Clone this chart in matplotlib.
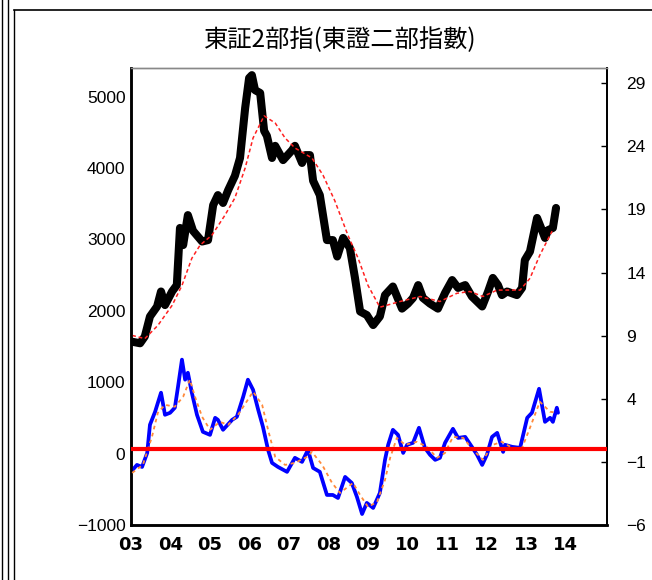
import matplotlib
matplotlib.use("Agg")
import matplotlib.pyplot as plt
from matplotlib.lines import Line2D

plt.rcParams['font.family'] = ['Liberation Sans', 'Noto Sans CJK JP', 'DejaVu Sans']

# --- data ---
TITLE = "東証2部指(東證二部指數)"

# index level (left axis)
index_years = [2003.00, 2003.23, 2003.35, 2003.48, 2003.66, 2003.76, 2003.86, 2004.04, 2004.16, 2004.24,
               2004.32, 2004.44, 2004.57, 2004.80, 2004.95, 2005.08, 2005.20, 2005.33, 2005.46, 2005.63,
               2005.76, 2005.89, 2005.99, 2006.06, 2006.14, 2006.27, 2006.37, 2006.44, 2006.57, 2006.65,
               2006.85, 2007.08, 2007.15, 2007.33, 2007.41, 2007.53, 2007.61, 2007.78, 2007.96, 2008.11,
               2008.22, 2008.37, 2008.54, 2008.67, 2008.80, 2008.97, 2009.13, 2009.30, 2009.43, 2009.63,
               2009.86, 2010.01, 2010.14, 2010.27, 2010.39, 2010.57, 2010.77, 2010.95, 2011.13, 2011.28,
               2011.46, 2011.63, 2011.89, 2012.04, 2012.16, 2012.29, 2012.39, 2012.52, 2012.77, 2012.90,
               2012.97, 2013.10, 2013.28, 2013.41, 2013.48, 2013.56, 2013.68, 2013.76]
index_values = [1570, 1545, 1640, 1920, 2060, 2270, 2080, 2270, 2360, 3160,
                2920, 3340, 3120, 2970, 2990, 3480, 3620, 3510, 3690, 3890,
                4140, 4840, 5260, 5300, 5090, 5050, 4520, 4450, 4140, 4310,
                4110, 4250, 4310, 4070, 4180, 4180, 3820, 3620, 2990, 2990,
                2760, 3020, 2880, 2460, 1990, 1940, 1800, 1920, 2220, 2340,
                2030, 2100, 2180, 2360, 2180, 2100, 2030, 2250, 2430, 2320,
                2360, 2200, 2060, 2270, 2460, 2360, 2220, 2270, 2220, 2320,
                2710, 2830, 3300, 3120, 3020, 3130, 3160, 3440]

# moving average of the index
ma_years = [2003.03, 2003.35, 2003.68, 2004.04, 2004.29, 2004.54, 2004.75, 2005.05, 2005.38, 2005.63,
            2005.89, 2006.09, 2006.37, 2006.65, 2006.90, 2007.15, 2007.58, 2007.86, 2008.16, 2008.49,
            2008.75, 2009.00, 2009.30, 2009.81, 2010.32, 2010.82, 2011.25, 2011.58, 2011.91, 2012.27,
            2012.85, 2013.10, 2013.35, 2013.66]
ma_values = [1655, 1610, 1795, 2075, 2355, 2735, 2920, 3060, 3340, 3580,
             4000, 4420, 4730, 4630, 4420, 4280, 4140, 3900, 3540, 3060,
             2735, 2355, 2050, 2130, 2200, 2130, 2245, 2270, 2200, 2290,
             2290, 2455, 2780, 3115]

# oscillator (right axis)
osc_years = [2003.00, 2003.15, 2003.28, 2003.41, 2003.48, 2003.61, 2003.68, 2003.76, 2003.86, 2003.99,
             2004.11, 2004.19, 2004.29, 2004.37, 2004.44, 2004.54, 2004.67, 2004.82, 2005.00, 2005.13,
             2005.20, 2005.33, 2005.56, 2005.68, 2005.84, 2005.96, 2006.09, 2006.22, 2006.34, 2006.47,
             2006.57, 2006.72, 2006.95, 2007.15, 2007.33, 2007.48, 2007.61, 2007.78, 2007.96, 2008.11,
             2008.24, 2008.42, 2008.59, 2008.72, 2008.85, 2008.97, 2009.13, 2009.30, 2009.43, 2009.51,
             2009.63, 2009.76, 2009.89, 2009.99, 2010.14, 2010.29, 2010.44, 2010.57, 2010.70, 2010.82,
             2010.95, 2011.15, 2011.28, 2011.46, 2011.63, 2011.76, 2011.89, 2012.01, 2012.14, 2012.27,
             2012.34, 2012.42, 2012.47, 2012.65, 2012.85, 2013.03, 2013.15, 2013.33, 2013.48, 2013.61,
             2013.68, 2013.78, 2013.81]
osc_values = [-1.79, -1.24, -1.40, -0.29, 1.94, 2.97, 3.68, 4.48, 2.73, 2.89,
              3.29, 4.95, 7.10, 5.51, 6.06, 4.48, 2.73, 1.38, 1.14, 2.49,
              2.33, 1.54, 2.33, 2.57, 4.16, 5.51, 4.71, 3.13, 1.78, -0.05,
              -1.08, -1.40, -1.79, -0.68, -1.00, -0.05, -1.48, -1.79, -3.62, -3.62,
              -3.86, -2.19, -2.67, -3.78, -5.13, -4.25, -4.65, -3.46, -0.84, 0.35,
              1.54, 1.14, -0.29, 0.35, 0.51, 1.70, 0.11, -0.44, -0.84, -0.68,
              0.51, 1.62, 0.90, 0.98, 0.19, -0.44, -1.24, -0.44, 0.98, 1.30,
              0.59, -0.21, 0.35, 0.19, 0.11, 2.49, 2.89, 4.79, 2.17, 2.49,
              2.17, 3.29, 2.89]

# moving average of the oscillator
osc_ma_years = [2003.03, 2003.30, 2003.53, 2003.68, 2003.86, 2004.11, 2004.32, 2004.49, 2004.62, 2004.80,
                2005.00, 2005.25, 2005.46, 2005.71, 2006.09, 2006.32, 2006.47, 2006.65, 2006.90, 2007.15,
                2007.46, 2007.58, 2007.84, 2008.09, 2008.29, 2008.62, 2008.80, 2009.00, 2009.23, 2009.43,
                2009.56, 2009.73, 2009.94, 2010.24, 2010.49, 2010.75, 2010.95, 2011.15, 2011.41, 2011.66,
                2011.91, 2012.16, 2012.39, 2012.65, 2012.90, 2013.10, 2013.35, 2013.61, 2013.78]
osc_ma_values = [-1.87, -1.24, 0.98, 2.89, 3.52, 3.37, 4.16, 5.51, 4.16, 2.57,
                 1.54, 2.17, 1.94, 2.73, 4.56, 3.52, 1.54, -0.60, -1.24, -1.08,
                 -0.60, -0.21, -1.24, -2.67, -3.46, -2.67, -3.62, -4.57, -4.17, -2.43,
                 -0.68, 0.90, 0.35, 0.59, 0.19, -0.68, -0.29, 0.98, 0.90, -0.05,
                 -0.84, 0.35, 0.59, 0.11, 0.11, 1.70, 3.76, 2.97, 2.89]

year_ticks = list(range(2003, 2015))
year_labels = ["03", "04", "05", "06", "07", "08", "09", "10", "11", "12", "13", "14"]
left_ticks = [-1000, 0, 1000, 2000, 3000, 4000, 5000]
left_labels = ["\u22121000", "0", "1000", "2000", "3000", "4000", "5000"]
right_ticks = [-6, -1, 4, 9, 14, 19, 24, 29]
right_labels = ["\u22126", "\u22121", "4", "9", "14", "19", "24", "29"]

W, H = 652, 580
fig = plt.figure(figsize=(W / 100, H / 100), dpi=100)


def fx(px):
    return px / W


def fy(py):
    return 1 - py / H


# outer frame lines
for x in (2, 8, 14):
    fig.add_artist(Line2D([fx(x), fx(x)], [0, fy(10) if x == 14 else 1],
                          transform=fig.transFigure, color='black', lw=1.0))
fig.add_artist(Line2D([fx(14), 1], [fy(10), fy(10)], transform=fig.transFigure,
                      color='black', lw=1.2))

fig.text(fx(340), fy(40), TITLE, ha='center', va='center', fontsize=17.5,
         family=['Noto Sans CJK JP', 'DejaVu Sans'])

ax = fig.add_axes([fx(131), fy(525), fx(607) - fx(131), fy(68) - fy(525)])
ax2 = ax.twinx()

ax.plot(index_years, index_values, color='black', lw=5.8,
        solid_joinstyle='round', solid_capstyle='round', zorder=2)
ax.plot(ma_years, ma_values, color='#ff2020', lw=1.1, ls=(0, (2.5, 1.8)), zorder=3)

ax2.plot(osc_years, osc_values, color='#0000ff', lw=2.7,
         solid_joinstyle='round', solid_capstyle='round', zorder=2)
ax2.plot(osc_ma_years, osc_ma_values, color='#ff8a3a', lw=1.3, ls=(0, (2, 2)), zorder=3)
ax2.axhline(0, color='#ff0000', lw=3, zorder=4)

ax.set_xlim(2003, 2015.05)
ax.set_ylim(-1000, 5400)
ax2.set_ylim(-6, 30.2)

ax.set_xticks(year_ticks)
ax.set_xticklabels(year_labels, fontweight='bold', fontsize=13,
                   family=['Liberation Sans Narrow', 'DejaVu Sans'])
ax.set_yticks(left_ticks)
ax.set_yticklabels(left_labels, fontsize=12.5)
ax2.set_yticks(right_ticks)
ax2.set_yticklabels(right_labels, fontsize=12.5)

ax.tick_params(axis='x', length=0, pad=8)
ax.tick_params(axis='y', length=0, pad=4)
ax2.tick_params(axis='y', direction='in', length=4, width=1, pad=14)

for a in (ax, ax2):
    a.spines['left'].set_linewidth(1.8)
    a.spines['bottom'].set_linewidth(1.8)
    a.spines['right'].set_linewidth(1.3)
    a.spines['top'].set_color('#888888')
    a.spines['top'].set_linewidth(1.0)

fig.savefig("out.png", dpi=100)
